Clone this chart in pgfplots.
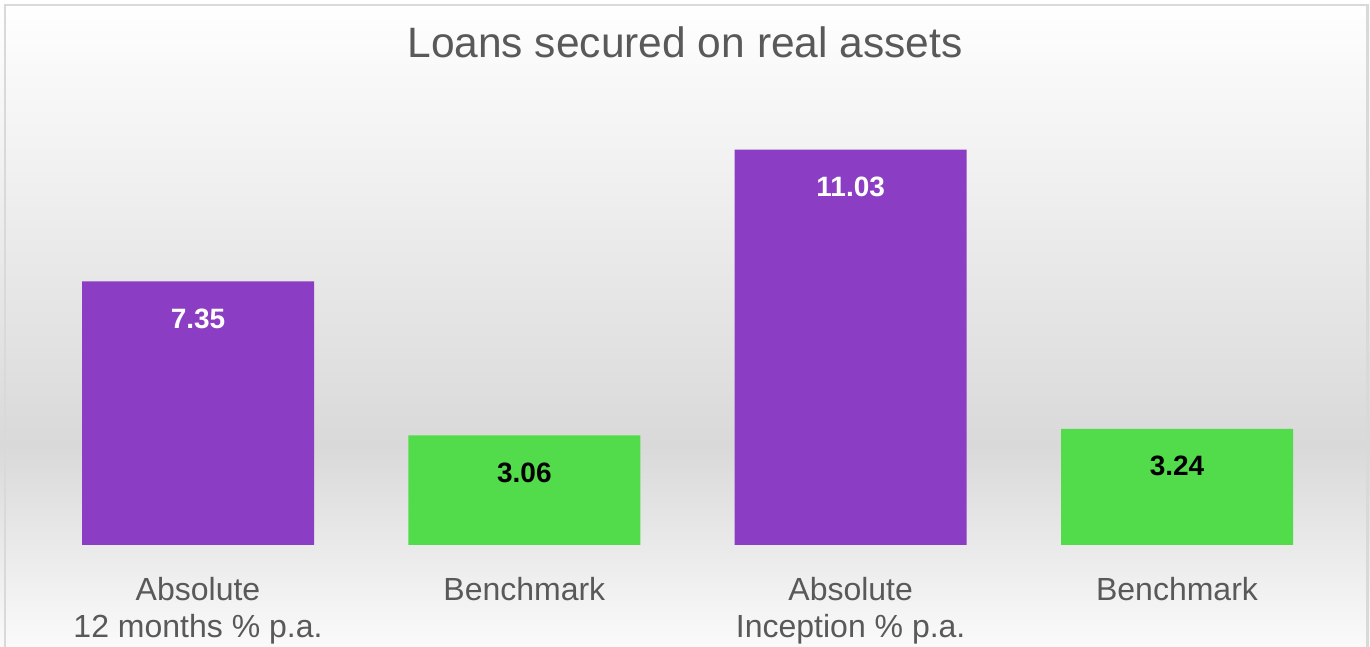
\documentclass[border=0pt]{standalone}
\usepackage{pgfplots}
\pgfplotsset{compat=1.18}
\usepackage{fontspec}
\setmainfont{Liberation Sans}
\definecolor{barpurple}{RGB}{139,61,196}
\definecolor{bargreen}{RGB}{82,219,74}
\definecolor{txtgray}{RGB}{89,89,89}
\definecolor{bgmid}{RGB}{217,217,217}
\definecolor{bglow}{RGB}{250,250,250}
\definecolor{framegray}{RGB}{217,217,217}

\begin{document}
\begin{tikzpicture}
\useasboundingbox (0,0) rectangle (685pt,323.5pt);
% background gradient and frame
\shade[top color=white, bottom color=bgmid] (0,100.5pt) rectangle (685pt,323.5pt);
\shade[top color=bgmid, bottom color=bglow] (0,0) rectangle (685pt,101pt);
\draw[framegray, line width=1.25pt] (2.5pt,0) -- (2.5pt,321pt) -- (683.75pt,321pt) -- (683.75pt,0);
\node[anchor=base, txtgray, font=\fontsize{21.25}{25}\selectfont] at (342.5pt,294.5pt) {Loans secured on real assets};
\begin{axis}[
  at={(17.42pt,51pt)}, anchor=south west,
  scale only axis, width=652.67pt, height=215.1pt,
  xmin=-0.5, xmax=3.5, ymin=0, ymax=12,
  ybar, bar width=116pt, bar shift=0pt,
  axis line style={draw=none}, major tick length=0pt, ytick=\empty,
  xtick={0,1,2,3},
  xticklabels={{Absolute\\12 months \% p.a.},Benchmark,{Absolute\\Inception \% p.a.},Benchmark},
  xticklabel style={align=center, anchor=north, yshift=-15.8pt, text=txtgray,
    font=\fontsize{16}{18.75}\selectfont, inner sep=0pt},
  nodes near coords={\pgfmathprintnumber[fixed,fixed zerofill,precision=2,assume math mode=true]{\pgfplotspointmeta}},
  every node near coord/.append style={anchor=base, yshift=-23.5pt, font=\bfseries\fontsize{14}{16}\selectfont},
  clip=false,
]
\addplot[fill=barpurple, draw=none, every node near coord/.append style={text=white}] coordinates {(0,7.35) (2,11.03)};
\addplot[fill=bargreen, draw=none, every node near coord/.append style={text=black}] coordinates {(1,3.06) (3,3.24)};
\end{axis}
\end{tikzpicture}
\end{document}
